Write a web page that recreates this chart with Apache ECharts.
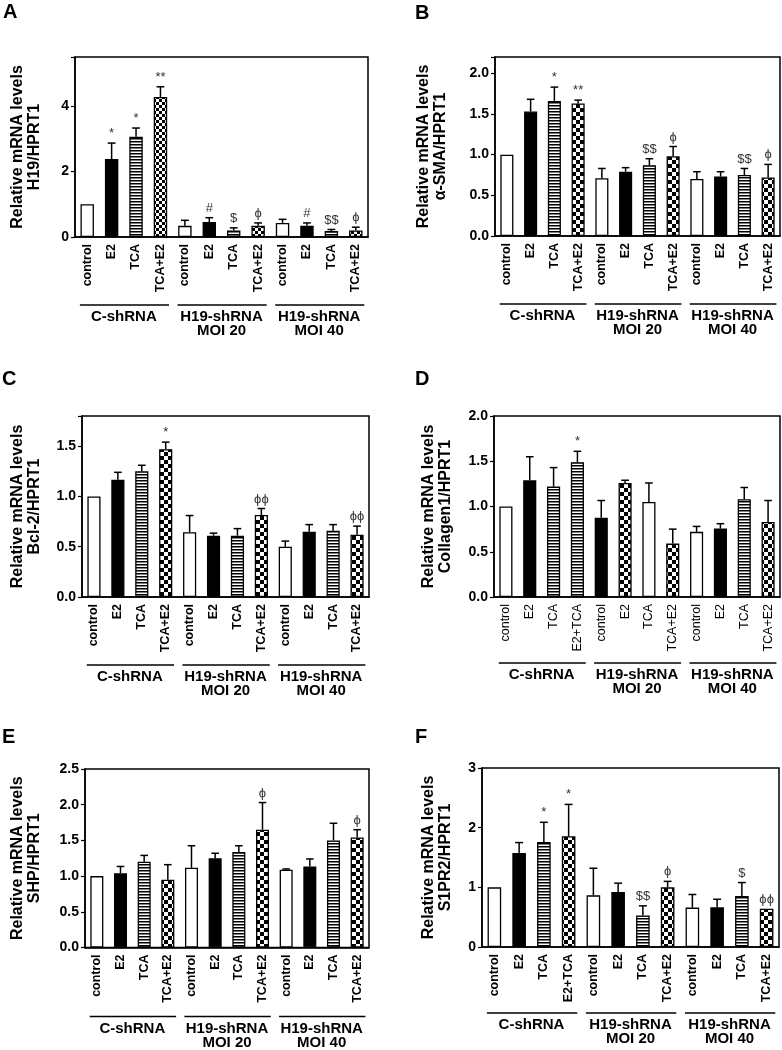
<!DOCTYPE html>
<html><head><meta charset="utf-8">
<script src="https://cdn.jsdelivr.net/npm/echarts@6/dist/echarts.min.js"></script>
<style>html,body{margin:0;padding:0;background:#fff}#c{width:782px;height:1050px}</style>
</head><body><div id="c"></div>
<script>
// ---------- DATA ----------
const catsMain = ['control','E2','TCA','TCA+E2','control','E2','TCA','TCA+E2','control','E2','TCA','TCA+E2'];
const catsAlt  = ['control','E2','TCA','E2+TCA','control','E2','TCA','TCA+E2','control','E2','TCA','TCA+E2'];
const groupLabels = ['C-shRNA','H19-shRNA\nMOI 20','H19-shRNA\nMOI 40'];
const groupSpans = [[0,3],[4,7],[8,11]];
const fillsStd = ['white','black','stripe','checker','white','black','stripe','checker','white','black','stripe','checker'];
const fillsD   = ['white','black','stripe','stripe','black','checker','white','checker','white','black','stripe','checker'];

const h19Mean  = [1.00,2.38,3.06,4.28,0.34,0.46,0.20,0.34,0.43,0.34,0.18,0.20];
const h19Err   = [1.00,2.87,3.33,4.59,0.51,0.59,0.28,0.43,0.54,0.43,0.23,0.30];
const h19Marks = ['','*','*','**','','#','$','ϕ','','#','$$','ϕ'];

const smaMean  = [1.00,1.53,1.66,1.63,0.71,0.79,0.87,0.98,0.70,0.73,0.75,0.72];
const smaErr   = [1.00,1.68,1.83,1.67,0.83,0.84,0.95,1.10,0.79,0.79,0.83,0.88];
const smaMarks = ['','','*','**','','','$$','ϕ','','','$$','ϕ'];

const bcl2Mean  = [1.00,1.165,1.25,1.47,0.645,0.61,0.61,0.815,0.50,0.65,0.66,0.62];
const bcl2Err   = [1.00,1.24,1.31,1.54,0.81,0.635,0.68,0.88,0.556,0.72,0.72,0.705];
const bcl2Marks = ['','','','*','','','','ϕϕ','','','','ϕϕ'];

const colMean  = [1.00,1.29,1.22,1.49,0.875,1.26,1.05,0.59,0.72,0.756,1.08,0.83];
const colErr   = [1.00,1.55,1.43,1.61,1.066,1.29,1.26,0.75,0.78,0.81,1.21,1.066];
const colMarks = ['','','','*','','','','','','','',''];

const shpMean  = [1.00,1.04,1.20,0.95,1.117,1.25,1.336,1.65,1.09,1.135,1.50,1.54];
const shpErr   = [1.00,1.135,1.29,1.16,1.425,1.32,1.425,2.03,1.10,1.24,1.74,1.65];
const shpMarks = ['','','','','','','','ϕ','','','','ϕ'];

const s1prMean  = [1.00,1.575,1.76,1.855,0.866,0.92,0.53,1.00,0.66,0.665,0.855,0.64];
const s1prErr   = [1.00,1.75,2.09,2.39,1.32,1.07,0.69,1.10,0.88,0.80,1.08,0.64];
const s1prMarks = ['','','*','*','','','$$','ϕ','','','$','ϕϕ'];

const yTitles = ['Relative mRNA levels\nH19/HPRT1','Relative mRNA levels\nα-SMA/HPRT1','Relative mRNA levels\nBcl-2/HPRT1',
                 'Relative mRNA levels\nCollagen1/HPRT1','Relative mRNA levels\nSHP/HPRT1','Relative mRNA levels\nS1PR2/HPRT1'];
const panelLetters = ['A','B','C','D','E','F'];
const yMax  = [5.5, 2.2, 1.8, 2.0, 2.5, 3];
const yStep = [2, 0.5, 0.5, 0.5, 0.5, 1];

// ---------- LAYOUT / STYLE ----------
const FONT = '"Liberation Sans", Arial, "DejaVu Sans", sans-serif';
const layout = [
  {lx:3,  ly:2,   left:75,  top:57,  width:293, height:180, nameGap:32, groupOff:68, cell:3, catBold:true},
  {lx:415,ly:3,   left:495, top:57,  width:285, height:179, nameGap:46, groupOff:68, cell:4, catBold:true},
  {lx:2,  ly:369, left:82,  top:416, width:287, height:181, nameGap:39, groupOff:68, cell:4, catBold:true},
  {lx:415,ly:369, left:494, top:416, width:286, height:181, nameGap:40, groupOff:66, cell:4, catBold:false},
  {lx:2,  ly:727, left:85,  top:769, width:284, height:179, nameGap:42, groupOff:69, cell:4, catBold:true},
  {lx:415,ly:727, left:482, top:768, width:297, height:179, nameGap:28, groupOff:66, cell:4, catBold:true}
];
const means = [h19Mean, smaMean, bcl2Mean, colMean, shpMean, s1prMean];
const errs  = [h19Err, smaErr, bcl2Err, colErr, shpErr, s1prErr];
const marks = [h19Marks, smaMarks, bcl2Marks, colMarks, shpMarks, s1prMarks];
const cats  = [catsMain, catsMain, catsMain, catsAlt, catsMain, catsAlt];
const fills = [fillsStd, fillsStd, fillsStd, fillsD, fillsStd, fillsStd];

function pattern(kind, cell) {
  if (kind === 'white') return '#fff';
  if (kind === 'black') return '#000';
  const c = document.createElement('canvas');
  if (kind === 'stripe') {
    c.width = 4; c.height = 3;
    const g = c.getContext('2d');
    g.fillStyle = '#fff'; g.fillRect(0,0,4,3);
    g.fillStyle = '#000'; g.fillRect(0,0,4,1.5);
  } else {
    c.width = cell*2; c.height = cell*2;
    const g = c.getContext('2d');
    g.fillStyle = '#fff'; g.fillRect(0,0,cell*2,cell*2);
    g.fillStyle = '#000'; g.fillRect(0,0,cell,cell); g.fillRect(cell,cell,cell,cell);
  }
  return {image: c, repeat: 'repeat'};
}

const option = {
  animation: false,
  backgroundColor: '#fff',
  textStyle: {fontFamily: FONT},
  title: [], grid: [], xAxis: [], yAxis: [], series: []
};

layout.forEach((p, i) => {
  option.title.push({text: panelLetters[i], left: p.lx, top: p.ly, padding: 0,
    textStyle: {fontSize: 20, fontWeight: 'bold', color: '#000', fontFamily: FONT}});
  option.grid.push({left: p.left, top: p.top, width: p.width, height: p.height,
    show: true, borderColor: '#000', borderWidth: 1.5, backgroundColor: 'transparent', containLabel: false});
  option.xAxis.push({
    type: 'category', gridIndex: i, data: cats[i], position: 'bottom',
    axisLine: {lineStyle: {color: '#000', width: 1.5}},
    axisTick: {alignWithLabel: true, length: 4, lineStyle: {color: '#000', width: 1.2}},
    axisLabel: {rotate: 90, interval: 0, margin: 7, color: '#000', fontSize: 12.5,
      fontWeight: p.catBold ? 'bold' : 'normal', fontFamily: FONT},
    splitLine: {show: false}
  });
  option.xAxis.push({
    type: 'category', gridIndex: i, data: groupLabels, position: 'bottom', offset: p.groupOff,
    axisLine: {show: false}, axisTick: {show: false}, splitLine: {show: false},
    axisLabel: {interval: 0, margin: 5, color: '#000', fontSize: 15, fontWeight: 'bold', lineHeight: 14, fontFamily: FONT}
  });
  const step = yStep[i];
  option.yAxis.push({
    type: 'value', gridIndex: i, min: 0, max: yMax[i], interval: step,
    name: yTitles[i], nameLocation: 'middle', nameGap: p.nameGap,
    nameTextStyle: {fontSize: 16, fontWeight: 'bold', color: '#000', lineHeight: 17, fontFamily: FONT},
    axisLine: {show: true, lineStyle: {color: '#000', width: 1.5}},
    axisTick: {show: true, length: 4, lineStyle: {color: '#000', width: 1.2}},
    splitLine: {show: false},
    axisLabel: {color: '#000', fontSize: 14, fontWeight: 'bold', margin: 6, fontFamily: FONT,
      formatter: v => {
        const k = v / step;
        if (Math.abs(k - Math.round(k)) > 1e-6) return '';
        return step < 1 ? v.toFixed(1) : String(v);
      }}
  });
  // bars
  option.series.push({
    type: 'bar', xAxisIndex: 2*i, yAxisIndex: i, barWidth: '55%',
    data: means[i].map((m, j) => ({value: m, itemStyle: {color: pattern(fills[i][j], p.cell), borderColor: '#000', borderWidth: 1.3}})),
    z: 2
  });
  // error bars + significance marks
  const mk = marks[i];
  option.series.push({
    type: 'custom', xAxisIndex: 2*i, yAxisIndex: i, clip: false, z: 3,
    data: means[i].map((m, j) => [j, m, errs[i][j]]),
    renderItem: (params, api) => {
      const j = api.value(0), m = api.value(1), e = api.value(2);
      const base = api.coord([j, m]), top = api.coord([j, e]);
      const band = api.size([1, 0])[0];
      const half = band * 0.16;
      const children = [];
      if (e > m + 1e-9) {
        children.push({type: 'line', shape: {x1: base[0], y1: base[1], x2: top[0], y2: top[1]}, style: {stroke: '#000', lineWidth: 1.5}});
        children.push({type: 'line', shape: {x1: top[0]-half, y1: top[1], x2: top[0]+half, y2: top[1]}, style: {stroke: '#000', lineWidth: 1.5}});
      }
      const t = mk[params.dataIndex];
      if (t) children.push({type: 'text', style: {text: t, x: top[0], y: top[1] - 3, align: 'center', verticalAlign: 'bottom',
        font: '13px ' + FONT, fill: '#333'}});
      return {type: 'group', children};
    }
  });
  // group underlines
  option.series.push({
    type: 'custom', xAxisIndex: 2*i, yAxisIndex: i, clip: false, z: 3, silent: true,
    data: groupSpans.map(g => [g[0], 0, g[1]]),
    encode: {x: 0, y: 1},
    renderItem: (params, api) => {
      const s = api.coord([api.value(0), 0]), e = api.coord([api.value(2), 0]);
      const band = api.size([1, 0])[0];
      const y = params.coordSys.y + params.coordSys.height + p.groupOff;
      return {type: 'line', shape: {x1: s[0] - band*0.3, y1: y, x2: e[0] + band*0.35, y2: y}, style: {stroke: '#000', lineWidth: 1.5}};
    }
  });
});

const chart = echarts.init(document.getElementById('c'), null, {renderer: 'canvas'});
chart.setOption(option);
</script></body></html>
